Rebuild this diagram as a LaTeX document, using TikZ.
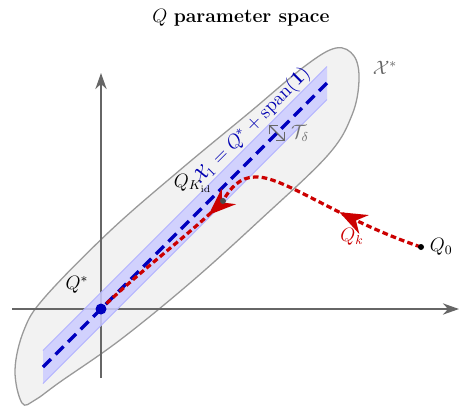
\documentclass[tikz,border=0pt]{standalone}
\usepackage{amsmath,amssymb}
\usepackage{xcolor}
\usepackage{tikz}
\usetikzlibrary{arrows.meta,positioning,decorations.markings}

\begin{document}
\begin{tikzpicture}[
    x=0.02179cm, y=-0.02179cm,
    font=\large,
    axis/.style={draw=black!60, line width=0.9pt, -{Stealth[length=10pt,width=7pt]}},
    region/.style={draw=black!40, line width=0.8pt, fill=black!5},
    band/.style={fill=blue!20, fill opacity=0.85},
    bandedge/.style={draw=blue!30, line width=0.6pt},
    fibre/.style={draw=blue!75!black, line width=2pt, dash pattern=on 7pt off 4pt},
    traj/.style={draw=red!80!black, line width=2pt, dash pattern=on 3.5pt off 2pt},
    lbl/.style={inner sep=1pt}
]
    \useasboundingbox (0,0) rectangle (459,406);

    % Title
    \node (title) at (241,18) {$Q$ \textbf{parameter space}};

    % Region X*
    \draw[region] plot[smooth cycle, tension=0.6] coordinates {
        (22,403) (15,370) (24,330) (45,297) (110,231) (180,170) (250,112)
        (305,66) (336,48) (354,56) (359,80) (352,115) (328,155)
        (260,220) (190,283) (120,340) (60,382) (35,400)};
    \node[lbl, text=black!60] (xstar) at (385,68) {$\mathcal{X}^*$};

    % Axes
    \coordinate (origin) at (101,309);
    \draw[axis] (12,309) -- (459,309);
    \draw[axis] (101,378) -- (101,73);

    % Band around X_1
    \coordinate (lineA) at (43,367);
    \coordinate (lineB) at (327,83);
    \fill[band] (43,350.5) -- (327,66.5) -- (327,99.5) -- (43,383.5) -- cycle;
    \draw[bandedge] (43,350.5) -- (327,66.5);
    \draw[bandedge] (43,383.5) -- (327,99.5);
    \draw[fibre] (lineA) -- (lineB);
    \node[rotate=45, text=blue!70!black] (xone) at (252,126)
        {$\mathcal{X}_1 = Q^* + \mathrm{span}(\mathbf{1})$};

    % T_delta
    \coordinate (tdA) at (268.7,124.7);
    \coordinate (tdB) at (285.3,141.3);
    \draw[black!60, line width=0.8pt, {Straight Barb[length=4pt]}-{Straight Barb[length=4pt]}] (tdA) -- (tdB);
    \node[lbl, text=black!55] (tdelta) at (300,133) {$\mathcal{T}_\delta$};

    % Points
    \coordinate (qzero) at (421,247);
    \coordinate (qkid) at (223,201);
    \coordinate (qstar) at (101,309);

    % Trajectory Q_k
    \draw[traj, postaction={decorate}, decoration={markings,
        mark=at position 0.23 with {\arrow{Stealth[length=17pt,width=13pt]}},
        mark=at position 0.63 with {\arrow{Stealth[length=17pt,width=13pt]}}}]
        (qzero) .. controls (340,220) and (282,175) .. (255,177)
        .. controls (240,177) and (230,188) .. (qkid)
        .. controls (195,230) and (135,275) .. (qstar);

    \fill[black] (qzero) circle (3);
    \fill[black!70] (qkid) circle (3);
    \fill[blue!75!black] (qstar) circle (5.5);

    % Labels
    \node[right=2pt of qzero] (qzerolbl) {$Q_0$};
    \node[lbl, text=red!80!black] (qklbl) at (352,237) {$Q_k$};
    \node[lbl] (qkidlbl) at (193,183) {$Q_{K_{\mathrm{id}}}$};
    \node[lbl] (qstarlbl) at (77,285) {$Q^*$};
\end{tikzpicture}
\end{document}
